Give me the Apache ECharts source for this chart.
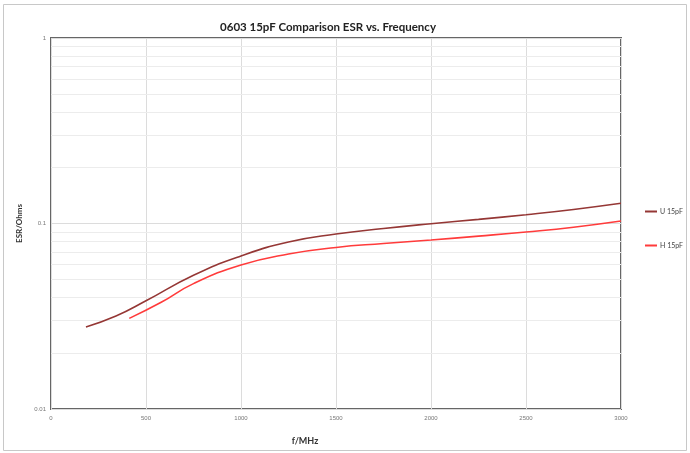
<!DOCTYPE html>
<html><head><meta charset="utf-8">
<script src="https://cdn.jsdelivr.net/npm/echarts@6/dist/echarts.min.js"></script>
<style>html,body{margin:0;padding:0;background:#fff}#c{width:690px;height:453px}</style>
</head><body><div id="c"></div>
<script>
const titleText = '0603 15pF Comparison ESR vs. Frequency';
const xName = 'f/MHz';
const yName = 'ESR/Ohms';
const seriesNames = ['U 15pF', 'H 15pF'];
const uData = [[184,0.0277],[342,0.0317],[500,0.0383],[750,0.0526],[1000,0.0668],[1250,0.0795],[1500,0.0878],[1750,0.0940],[2000,0.0997],[2250,0.1052],[2500,0.1115],[2750,0.1190],[3000,0.1285]];
const hData = [[412,0.0308],[580,0.0376],[750,0.0474],[1000,0.0597],[1250,0.0685],[1500,0.0743],[1750,0.0780],[2000,0.0815],[2250,0.0855],[2500,0.0900],[2750,0.0955],[3000,0.1031]];
const minorGrid = [0.02,0.03,0.04,0.05,0.06,0.07,0.08,0.09,0.2,0.3,0.4,0.5,0.6,0.7,0.8,0.9];

const chart = echarts.init(document.getElementById('c'));
chart.setOption({
  animation: false,
  backgroundColor: '#fff',
  title: [
    {text: titleText, left: 323, top: 16, textAlign: 'center',
     textStyle: {fontFamily: 'Lato', fontSize: 11.5, fontWeight: 'bold', color: '#222'}},
    {text: xName, left: 300, top: 432, textAlign: 'center',
     textStyle: {fontFamily: 'Lato', fontSize: 9, fontWeight: 'bold', color: '#333'}}
  ],
  graphic: [{type: 'rect', shape: {x: 3.5, y: 4.5, width: 683, height: 446},
    style: {fill: 'none', stroke: '#c8c8c8', lineWidth: 1}, silent: true}],
  legend: {
    orient: 'vertical', left: 640, top: 203, itemGap: 27,
    itemWidth: 12, itemHeight: 2, icon: 'rect',
    textStyle: {fontFamily: 'Lato', fontSize: 7, color: '#444', padding: [0,0,0,-2]},
    data: seriesNames
  },
  grid: {left: 51, right: 69, top: 38, bottom: 44, show: true, borderColor: '#666', borderWidth: 2},
  xAxis: {
    type: 'value', min: 0, max: 3000, interval: 500,
    axisLine: {show: false}, axisTick: {show: false},
    axisLabel: {fontSize: 6, color: '#777', margin: 6, formatter: v => String(v)},
    splitLine: {show: true, lineStyle: {color: '#dcdcdc', width: 1}}
  },
  yAxis: {
    type: 'log', min: 0.01, max: 1, logBase: 10,
    name: yName, nameLocation: 'middle', nameGap: 17, nameRotate: 90,
    nameTextStyle: {fontFamily: 'Lato', fontSize: 8, fontWeight: 'bold', color: '#333'},
    axisLine: {show: false}, axisTick: {show: false},
    axisLabel: {fontSize: 6, color: '#777', margin: 5, formatter: v => String(+v.toPrecision(3))},
    splitLine: {show: true, lineStyle: {color: '#dcdcdc', width: 1}}
  },
  series: [
    {name: 'minor-grid', type: 'line', data: [], z: 1, silent: true,
     markLine: {silent: true, symbol: 'none', label: {show: false},
       lineStyle: {color: '#ececec', width: 1, type: 'solid'},
       data: minorGrid.map(v => ({yAxis: v}))}},
    {name: seriesNames[0], type: 'line', data: uData, smooth: 0.5, showSymbol: false,
     lineStyle: {color: '#953735', width: 1.6}, itemStyle: {color: '#953735'}, z: 5},
    {name: seriesNames[1], type: 'line', data: hData, smooth: 0.5, showSymbol: false,
     lineStyle: {color: '#ff3b3b', width: 1.6}, itemStyle: {color: '#ff3b3b'}, z: 5}
  ]
});
</script></body></html>
